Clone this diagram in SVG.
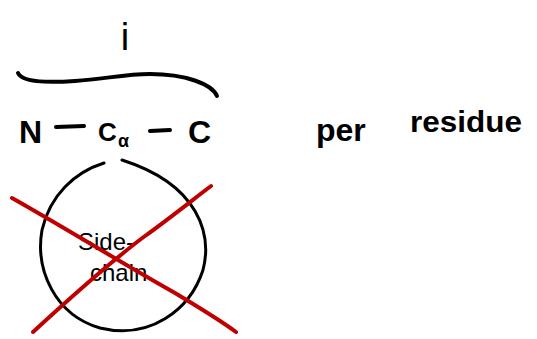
<svg xmlns="http://www.w3.org/2000/svg" width="537" height="339" viewBox="0 0 537 339">
<style>
.ink{fill:none;stroke:#000;stroke-width:4;stroke-linecap:round;stroke-linejoin:round}
.thin{fill:none;stroke:#000;stroke-width:3;stroke-linecap:round}
.red{fill:none;stroke:#c00000;stroke-width:4;stroke-linecap:round}
.t{font-family:"Liberation Sans",Arial,sans-serif;fill:#000}
</style>
<rect width="537" height="339" fill="#fff"/>
<g id="index-i">
<text class="t" x="125" y="50" font-size="38" text-anchor="middle">i</text>
</g>
<g id="brace">
<path class="ink" d="M18,73 C22,82 45,83 75,81 C105,79 125,74 150,74 C185,74 212,84 217,96"/>
</g>
<g id="backbone">
<text class="t" x="19" y="143" font-size="32" font-weight="bold">N</text>
<path class="ink" d="M56,127 L84,126"/>
<text class="t" x="98" y="141" font-size="26" font-weight="bold">C</text>
<text class="t" x="118" y="147" font-size="18" font-weight="bold">α</text>
<path class="ink" d="M150,131 L170,130"/>
<text class="t" x="188" y="143" font-size="32" font-weight="bold">C</text>
</g>
<g id="per-residue">
<text class="t" x="316" y="141" font-size="32" font-weight="bold">per</text>
<text class="t" x="410" y="132" font-size="30" font-weight="bold" textLength="112" lengthAdjust="spacingAndGlyphs">residue</text>
</g>
<g id="side-chain">
<path class="thin" d="M104,163 C75,172 50,195 42,230 C35,270 55,315 100,328 C150,340 190,310 203,270 C212,235 200,185 122,160"/>
<text class="t" x="78" y="250" font-size="24">Side-</text>
<text class="t" x="90" y="281" font-size="24">chain</text>
</g>
<g id="connectors">
<path class="red" d="M12,198 C60,225 120,262 175,293 C200,308 220,320 236,332"/>
<path class="red" d="M33,332 C70,298 110,262 145,236 C170,218 195,198 211,186"/>
</g>
</svg>
